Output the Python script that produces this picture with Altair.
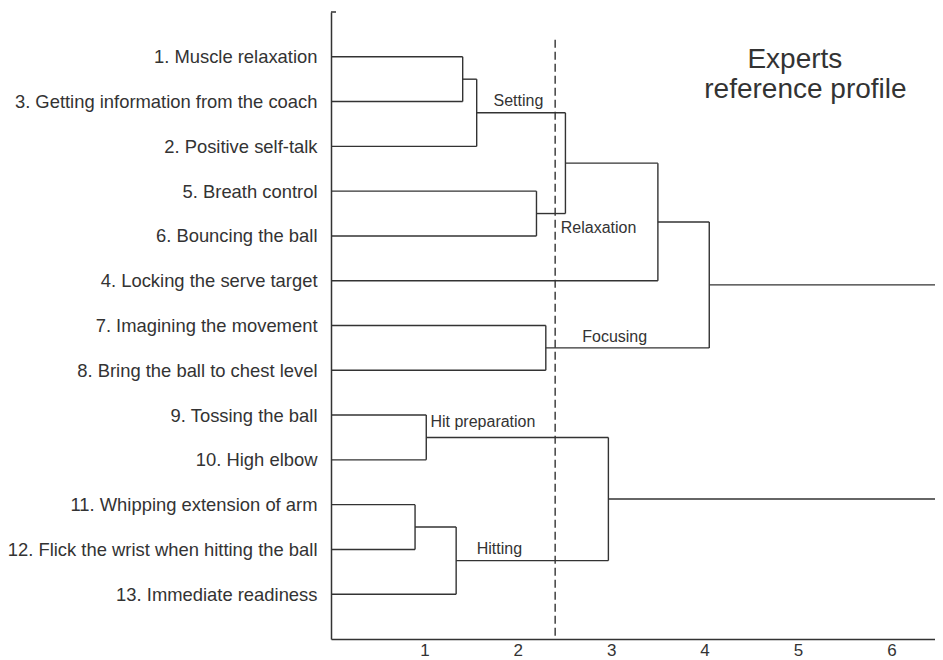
import json
import altair as alt
import pandas as pd

# ---- data ----
leaf_labels = [
    "1. Muscle relaxation",
    "3. Getting information from the coach",
    "2. Positive self-talk",
    "5. Breath control",
    "6. Bouncing the ball",
    "4. Locking the serve target",
    "7. Imagining the movement",
    "8. Bring the ball to chest level",
    "9. Tossing the ball",
    "10. High elbow",
    "11. Whipping extension of arm",
    "12. Flick the wrist when hitting the ball",
    "13. Immediate readiness",
]
# linkage: leaves are 0..12 (display order), merged clusters get ids 13, 14, ...
merge_left = [0, 13, 3, 14, 16, 6, 17, 8, 10, 21, 20]
merge_right = [1, 2, 4, 15, 5, 7, 18, 9, 11, 12, 22]
merge_height = [1.41, 1.56, 2.20, 2.51, 3.50, 2.30, 4.05, 1.02, 0.90, 1.34, 2.97]

x_max = 6.467          # right end of the distance axis (roots continue to here)
cutoff = 2.40          # dashed cut line
cutoff_top = 0.62

cluster_names = ["Setting", "Relaxation", "Focusing", "Hit preparation", "Hitting"]
cluster_x = [1.74, 2.46, 2.69, 1.065, 1.56]
cluster_y = [2.11, 4.93, 7.36, 9.26, 12.10]

title_lines = ["Experts", "reference profile"]
title_x = [4.967, 5.08]
title_y = [1.25, 1.92]

x_ticks = [1, 2, 3, 4, 5, 6]

# ---- build dendrogram segments from the linkage ----
n = len(leaf_labels)
pos = {i: i + 1 for i in range(n)}
hgt = {i: 0.0 for i in range(n)}
segs = []
for k, (a, b, h) in enumerate(zip(merge_left, merge_right, merge_height)):
    nid = n + k
    for c in (a, b):
        segs.append(dict(x=hgt[c], x2=h, y=pos[c], y2=pos[c]))
    segs.append(dict(x=h, x2=h, y=pos[a], y2=pos[b]))
    pos[nid] = (pos[a] + pos[b]) / 2
    hgt[nid] = h
children = set(merge_left + merge_right)
for r in pos:
    if r not in children:
        segs.append(dict(x=hgt[r], x2=x_max, y=pos[r], y2=pos[r]))
seg_df = pd.DataFrame(segs)

cut_df = pd.DataFrame({"x": [cutoff], "y": [cutoff_top], "y2": [len(leaf_labels) + 1]})
clu_df = pd.DataFrame({"name": cluster_names, "x": cluster_x, "y": cluster_y})
tit_df = pd.DataFrame({"t": title_lines, "x": title_x, "y": title_y})

FONT = "Liberation Sans"
INK = "#333333"

xscale = alt.Scale(domain=[0, x_max], nice=False, zero=True)
yscale = alt.Scale(domain=[0, n + 1], reverse=True, nice=False)

label_expr = json.dumps([""] + leaf_labels + [""]) + "[datum.value]"

xaxis = alt.Axis(values=x_ticks, format="d", ticks=False, grid=False, title=None,
                 labelFontSize=17, labelPadding=3, labelFont=FONT, labelColor=INK,
                 domainColor=INK, domainWidth=1.5)
yaxis = alt.Axis(values=list(range(1, n + 1)), labelExpr=label_expr, ticks=False,
                 tickSize=0, grid=False, title=None, labelFontSize=18.4,
                 labelPadding=14, labelFont=FONT, labelColor=INK,
                 domainColor=INK, domainWidth=1.5, labelLimit=400)

segments = alt.Chart(seg_df).mark_rule(color=INK, strokeWidth=1.4).encode(
    x=alt.X("x:Q", scale=xscale, axis=xaxis),
    x2="x2:Q",
    y=alt.Y("y:Q", scale=yscale, axis=yaxis),
    y2="y2:Q",
)

cut = alt.Chart(cut_df).mark_rule(color=INK, strokeWidth=1.4, strokeDash=[8, 4]).encode(
    x=alt.X("x:Q", scale=xscale, axis=xaxis),
    y=alt.Y("y:Q", scale=yscale, axis=yaxis),
    y2="y2:Q",
)

top_cap = alt.Chart(cut_df).mark_rule(color=INK, strokeWidth=1.5).encode(
    x=alt.value(0), x2=alt.value(5), y=alt.value(0)
)

clusters = alt.Chart(clu_df).mark_text(
    align="left", baseline="alphabetic", fontSize=16, font=FONT, color=INK
).encode(
    x=alt.X("x:Q", scale=xscale, axis=xaxis),
    y=alt.Y("y:Q", scale=yscale, axis=yaxis),
    text="name:N",
)

title = alt.Chart(tit_df).mark_text(
    align="center", baseline="alphabetic", fontSize=28, font=FONT, color=INK
).encode(
    x=alt.X("x:Q", scale=xscale, axis=xaxis),
    y=alt.Y("y:Q", scale=yscale, axis=yaxis),
    text="t:N",
)

chart = alt.layer(segments, cut, top_cap, clusters, title).properties(
    width=604,
    height=627,
    autosize=alt.AutoSizeParams(type="none"),
    padding={"left": 323, "top": 4, "right": 0, "bottom": 21},
    background="white",
).configure_view(stroke=None)

chart.save("out.html", embed_options={"renderer": "svg", "actions": False})
